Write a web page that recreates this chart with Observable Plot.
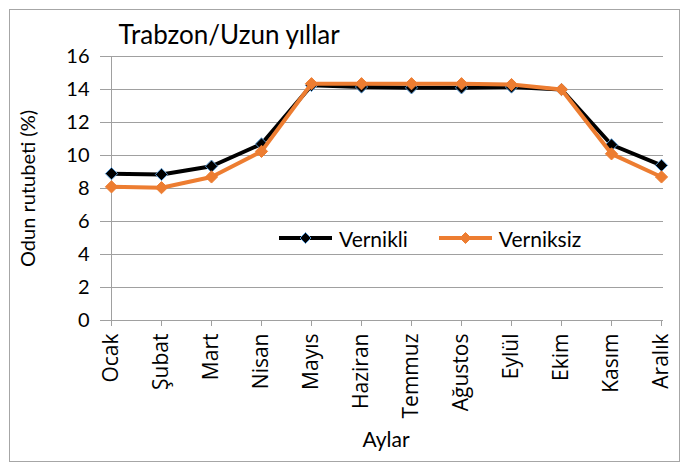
<!DOCTYPE html>
<html><head><meta charset="utf-8">
<script src="https://cdn.jsdelivr.net/npm/d3@7"></script>
<script src="https://cdn.jsdelivr.net/npm/@observablehq/plot@0.6"></script>
<style>
body{margin:0;background:#fff;}
#wrap{position:relative;width:682px;height:464px;font-family:Lato,"Open Sans",sans-serif;}
#border{position:absolute;left:9px;top:9px;width:671px;height:453px;border:1px solid #a6a6a6;box-sizing:border-box;}
#chart{position:absolute;left:0;top:0;}
#legend{position:absolute;left:278px;top:226px;height:24px;display:flex;align-items:center;font-size:21px;color:#000;}
.item{display:flex;align-items:center;margin-right:30px;white-space:nowrap;}
.item svg{margin-right:6px;}
</style></head>
<body><div id="wrap"><div id="border"></div><div id="chart"></div>
<div id="legend"></div></div>
<script>
const months = ["Ocak","Şubat","Mart","Nisan","Mayıs","Haziran","Temmuz","Ağustos","Eylül","Ekim","Kasım","Aralık"];
const vernikli = [8.9, 8.85, 9.35, 10.7, 14.25, 14.15, 14.1, 14.1, 14.15, 14.0, 10.65, 9.4];
const verniksiz = [8.1, 8.05, 8.7, 10.25, 14.35, 14.35, 14.35, 14.35, 14.3, 14.0, 10.1, 8.7];
const yTicks = [0, 2, 4, 6, 8, 10, 12, 14, 16];
const seriesNames = ["Vernikli", "Verniksiz"];
const colors = {Vernikli: "#000000", Verniksiz: "#ED7D31"};
const markerStroke = {Vernikli: "#5B9BD5", Verniksiz: "#ED7D31"};

const rows = [];
months.forEach((m, i) => {
  rows.push({month: m, series: "Vernikli", value: vernikli[i]});
  rows.push({month: m, series: "Verniksiz", value: verniksiz[i]});
});
const s1 = rows.filter(d => d.series === "Vernikli");
const s2 = rows.filter(d => d.series === "Verniksiz");

const chart = Plot.plot({
  width: 682, height: 464,
  marginLeft: 108, marginRight: 19, marginTop: 56, marginBottom: 144,
  style: {fontFamily: "Lato, 'Open Sans', sans-serif", fontSize: "20px", color: "#000", background: "transparent"},
  x: {type: "point", domain: months, padding: 0},
  y: {domain: [0, 16]},
  marks: [
    Plot.gridY(yTicks, {stroke: "#a0a0a0", strokeOpacity: 1, strokeWidth: 1}),
    Plot.ruleX([months[0]], {stroke: "#a0a0a0", strokeWidth: 1}),
    Plot.ruleY([0], {stroke: "#a0a0a0", strokeWidth: 1}),
    Plot.axisY(yTicks, {tickSize: 8, tickPadding: 11, stroke: "#a0a0a0", label: null, fontSize: 20, fill: "#000"}),
    Plot.axisX({tickSize: 6, tickPadding: 7, tickRotate: -90, stroke: "#a0a0a0", label: null, fontSize: 21, fontFamily: "'Open Sans', Lato, sans-serif", fill: "#000"}),
    Plot.line(s1, {x: "month", y: "value", stroke: colors.Vernikli, strokeWidth: 4}),
    Plot.dot(s1, {x: "month", y: "value", symbol: "diamond2", r: 5.5, fill: colors.Vernikli, stroke: markerStroke.Vernikli, strokeWidth: 1}),
    Plot.line(s2, {x: "month", y: "value", stroke: colors.Verniksiz, strokeWidth: 4}),
    Plot.dot(s2, {x: "month", y: "value", symbol: "diamond2", r: 5.5, fill: colors.Verniksiz, stroke: markerStroke.Verniksiz, strokeWidth: 1}),
    Plot.text(["Trabzon/Uzun yıllar"], {frameAnchor: "top-left", dx: 10, dy: -21, lineAnchor: "middle", textAnchor: "start", fontSize: 26}),
    Plot.text(["Odun rutubeti (%)"], {frameAnchor: "left", rotate: -90, dx: -80, textAnchor: "middle", lineAnchor: "middle", fontSize: 20}),
    Plot.text(["Aylar"], {frameAnchor: "bottom", dy: 120, lineAnchor: "middle", fontSize: 21})
  ]
});
document.getElementById("chart").appendChild(chart);

const legend = document.getElementById("legend");
seriesNames.forEach(name => {
  const item = document.createElement("div");
  item.className = "item";
  item.innerHTML = `<svg width="55" height="14"><line x1="1" y1="7" x2="54" y2="7" stroke="${colors[name]}" stroke-width="4"/>` +
    `<path d="M27.5,1.5L33,7L27.5,12.5L22,7Z" fill="${colors[name]}" stroke="${markerStroke[name]}" stroke-width="1"/></svg><span>${name}</span>`;
  legend.appendChild(item);
});
</script></body></html>
